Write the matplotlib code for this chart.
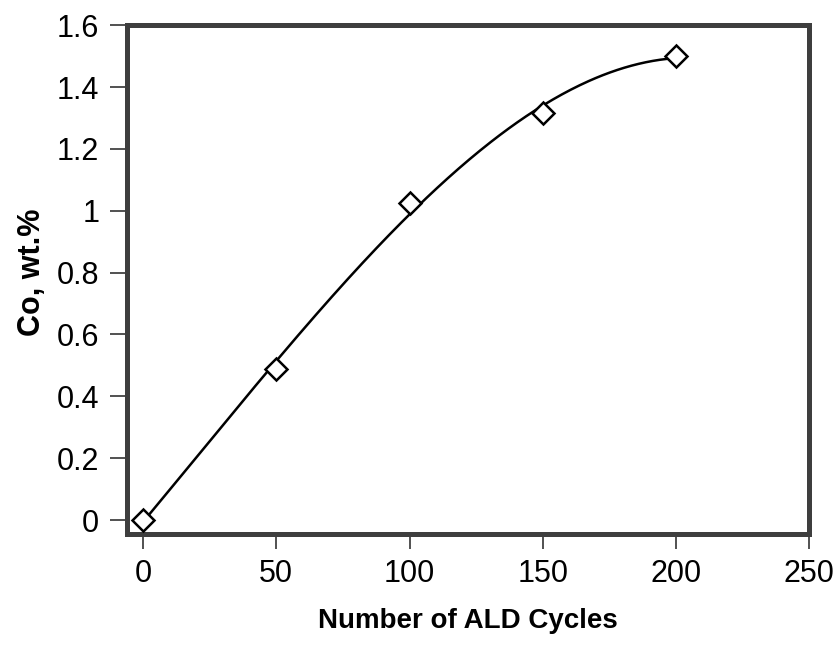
import numpy as np
import matplotlib
matplotlib.use("Agg")
import matplotlib.pyplot as plt
from matplotlib import font_manager

cycles = [0, 50, 100, 150, 200]
co_wt = [0.0, 0.49, 1.025, 1.316, 1.50]
xticks = [0, 50, 100, 150, 200, 250]
yticks = [0, 0.2, 0.4, 0.6, 0.8, 1.0, 1.2, 1.4, 1.6]
yticklabels = ["0", "0.2", "0.4", "0.6", "0.8", "1", "1.2", "1.4", "1.6"]

names = {f.name for f in font_manager.fontManager.ttflist}
fam = "Liberation Sans Narrow" if "Liberation Sans Narrow" in names else "Liberation Sans"
plt.rcParams['font.family'] = [fam, 'DejaVu Sans']

fig = plt.figure(figsize=(8.36, 6.48), dpi=100)
ax = fig.add_axes([0.152, 0.176, 0.816, 0.785])

coef = np.polyfit(cycles, co_wt, 3)
xs = np.linspace(cycles[0], cycles[-1], 300)
ax.plot(xs, np.polyval(coef, xs), color='black', lw=1.8, zorder=2)
ax.plot(cycles, co_wt, linestyle='none', marker='D', markersize=11,
        markerfacecolor='white', markeredgecolor='black', markeredgewidth=1.8, zorder=3)

ax.set_xlim(-6, 250)
ax.set_ylim(-0.045, 1.6)
ax.set_xticks(xticks)
ax.set_xticklabels([str(t) for t in xticks])
ax.set_yticks(yticks)
ax.set_yticklabels(yticklabels)

for s in ax.spines.values():
    s.set_linewidth(3.6)
    s.set_color('#3e3e3e')
ax.tick_params(axis='x', direction='out', length=11, width=1.2, color='#333333',
               labelsize=22, pad=7)
ax.tick_params(axis='y', direction='out', length=12, width=1.2, color='#333333',
               labelsize=22, pad=8)

ax.set_xlabel("Number of ALD Cycles", fontsize=20, fontweight='bold')
ax.set_ylabel("Co, wt.%", fontsize=22, fontweight='bold')
ax.xaxis.set_label_coords(0.5, -0.145)
ax.yaxis.set_label_coords(-0.117, 0.515)

fig.savefig("out.png", dpi=100)
